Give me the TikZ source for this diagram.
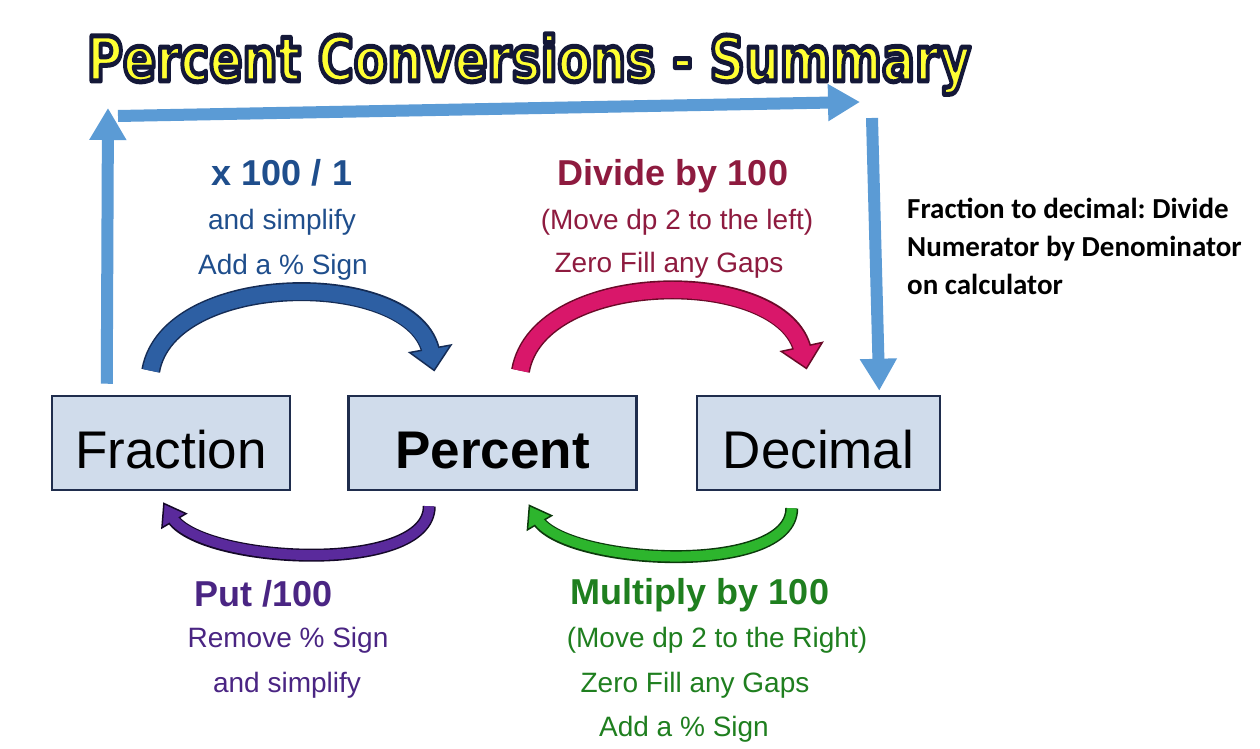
\documentclass[tikz,border=0pt]{standalone}
\usepackage{fontspec}
\usepackage{graphicx}
\setmainfont{Liberation Sans}
\newfontfamily\titlefont{DejaVu Sans}
\newfontfamily\notefont{Carlito}
\usetikzlibrary{arrows.meta,calc,decorations.markings,positioning}

\definecolor{boxFill}{HTML}{D0DCEB}
\definecolor{boxLine}{HTML}{1F2D4D}
\definecolor{titleYel}{HTML}{FFFF33}
\definecolor{sky}{HTML}{5B9BD5}
\definecolor{blueTxt}{HTML}{1F4E8C}
\definecolor{blueArr}{HTML}{2D5FA3}
\definecolor{blueEdge}{HTML}{152C55}
\definecolor{redTxt}{HTML}{8E1B3F}
\definecolor{redArr}{HTML}{D9176A}
\definecolor{redEdge}{HTML}{6A0A28}
\definecolor{purTxt}{HTML}{4A2583}
\definecolor{purArr}{HTML}{5A2A9C}
\definecolor{purEdge}{HTML}{140828}
\definecolor{grnTxt}{HTML}{1F7F1F}
\definecolor{grnArr}{HTML}{2DB52D}
\definecolor{grnEdge}{HTML}{0C3A0C}

% yellow letters with a dark rim (fill, then stroke)
\newcommand{\rimtext}[1]{%
  \special{pdf:literal direct q 0.078 0.094 0.22 RG 5 w 1 j 2 Tr}#1\special{pdf:literal direct Q}}

% fill, edge, shaft width, head half width, head length, path
\newcommand{\bentarrow}[6]{%
  \draw[#2, line width=#3+3pt, shorten >=#5-4pt] #6;
  \path[decorate, decoration={markings, mark=at position 0.999 with {%
    \filldraw[fill=#1, draw=#2, line width=1.5pt, line join=miter]
      (-#5,-#4) -- (0,0) -- (-#5,#4) -- cycle;}}] #6;
  \draw[#1, line width=#3, shorten >=#5-5pt] #6;
}

\begin{document}
\begin{tikzpicture}[
    x=1pt, y=1pt,
    box/.style={draw=boxLine, line width=2.5pt, fill=boxFill, inner sep=0pt,
      minimum width=238pt, minimum height=94pt, text height=52pt, text depth=0pt,
      font=\fontsize{53}{60}\selectfont},
    lbl/.style={anchor=base, inner sep=0pt, font=\fontsize{28}{32}\selectfont},
    head/.style={lbl, font=\bfseries\fontsize{36}{40}\selectfont},
    ttl/.style={anchor=base, inner sep=0pt, font=\titlefont\bfseries\fontsize{62}{70}\selectfont},
    skyarrow/.style={draw=sky, line width=12pt, -{Triangle[length=32pt,width=35pt]}},
]
\useasboundingbox (0,0) rectangle (1260,749);
\fill[white] (0,0) rectangle (1260,749);

% title
\node[ttl, text=titleYel] (title) at (529,668) {\rimtext{\scalebox{0.79}[1]{Percent Conversions - Summary}}};

% boxes
\node[box] (frac) at (171,306) {Fraction};
\node[box, minimum width=288pt, right=56pt of frac, font=\bfseries\fontsize{53}{60}\selectfont] (perc) {Percent};
\node[box, minimum width=243pt, right=58pt of perc] (deci) {Decimal};

% fraction to decimal route
\coordinate (upTip) at (108,641);
\coordinate (acrossA) at (118,633);
\coordinate (acrossB) at (860,647);
\coordinate (downA) at (872,631);
\draw[skyarrow] ($(frac.north west)+(56,11)$) -- (upTip);
\draw[skyarrow] (acrossA) -- (acrossB);
\draw[skyarrow] (downA) -- ($(deci.north east)+(-62,4)$);

\node[anchor=north west, inner sep=0pt, align=left, font=\notefont\bfseries\fontsize{29}{38}\selectfont\frenchspacing] (note) at (907,551)
  {Fraction to decimal: Divide\\Numerator by Denominator\\on calculator};

% curved arrows
\bentarrow{blueArr}{blueEdge}{16pt}{21pt}{22pt}{($(frac.north west)+(100,24)$) to[out=80,in=100,looseness=0.94] ($(perc.north west)+(87,24)$)}
\bentarrow{redArr}{redEdge}{16pt}{21pt}{22pt}{($(perc.north)+(28,24)$) to[out=80,in=102,looseness=0.94] ($(deci.north)+(-12,26)$)}
\bentarrow{purArr}{purEdge}{10pt}{14pt}{20pt}{($(perc.south west)+(82,-15)$) to[out=270,in=300,looseness=0.67] ($(frac.south west)+(113,-12)$)}
\bentarrow{grnArr}{grnEdge}{10pt}{14pt}{20pt}{($(deci.south west)+(96,-17)$) to[out=270,in=300,looseness=0.67] ($(perc.south west)+(182,-14)$)}

% labels
\node[head, text=blueTxt] (timesA) at (282,563) {x 100 / 1};
\node[lbl, text=blueTxt] (simpA) at (282,519) {and simplify};
\node[lbl, text=blueTxt] (signA) at (283,474) {Add a \% Sign};

\node[head, text=redTxt] (divB) at (673,563) {Divide by 100};
\node[lbl, text=redTxt] (moveB) at (677,519) {(Move dp 2 to the left)};
\node[lbl, text=redTxt] (zeroB) at (669,476) {Zero Fill any Gaps};

\node[head, text=purTxt] (putC) at (264,142) {Put /100};
\node[lbl, text=purTxt] (remC) at (288,101) {Remove \% Sign};
\node[lbl, text=purTxt] (simpC) at (287,56) {and simplify};

\node[head, text=grnTxt] (mulD) at (700,144) {Multiply by 100};
\node[lbl, text=grnTxt] (moveD) at (717,101) {(Move dp 2 to the Right)};
\node[lbl, text=grnTxt] (zeroD) at (695,56) {Zero Fill any Gaps};
\node[lbl, text=grnTxt] (signD) at (684,12) {Add a \% Sign};
\end{tikzpicture}
\end{document}
